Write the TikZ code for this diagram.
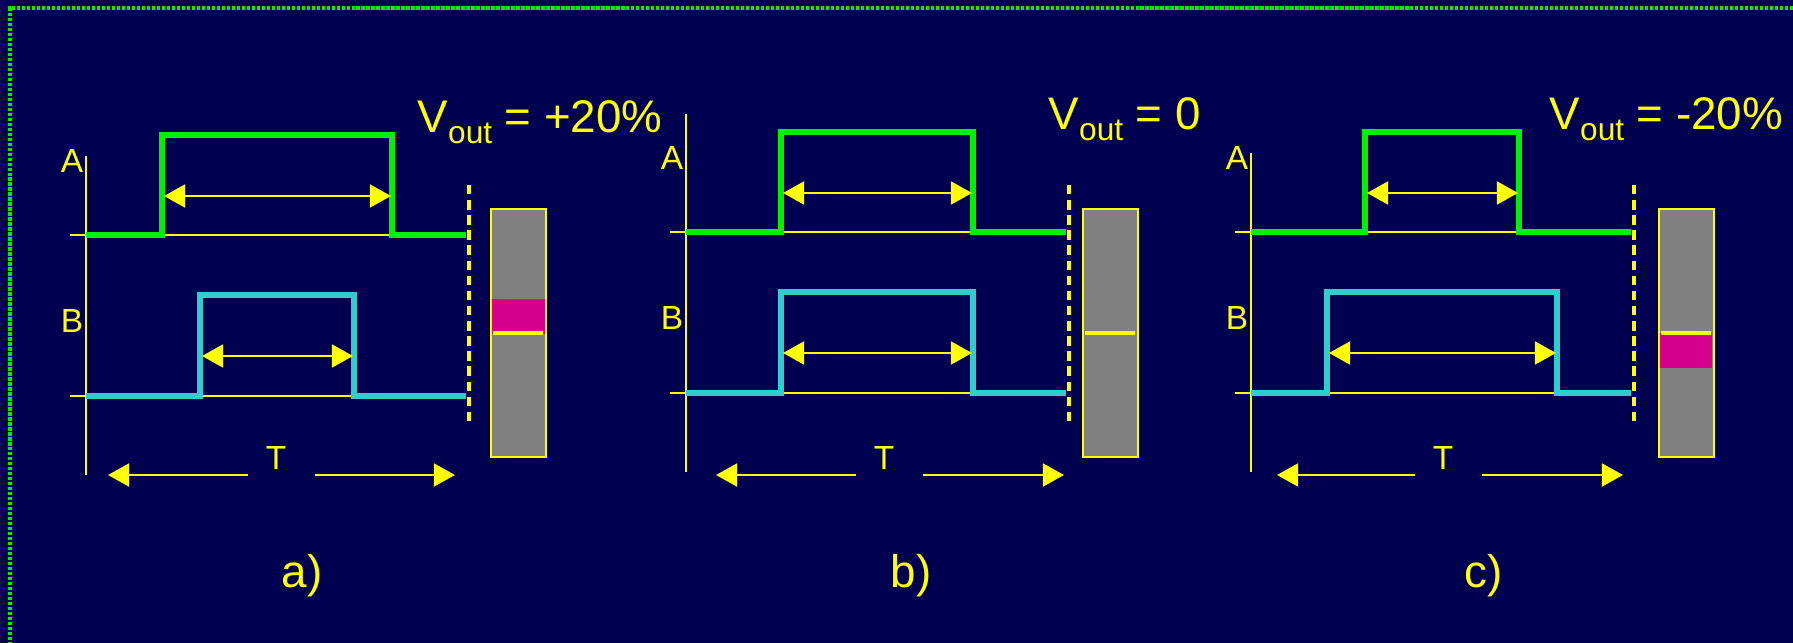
\documentclass[tikz,border=0pt]{standalone}
\usepackage{fontspec}
\setmainfont{Liberation Sans}
\usetikzlibrary{arrows.meta}

\definecolor{navy}{RGB}{0,0,80}
\definecolor{siggreen}{RGB}{0,240,0}
\definecolor{sigcyan}{RGB}{51,204,204}
\definecolor{baryellow}{RGB}{255,255,0}
\definecolor{bargray}{RGB}{128,128,128}
\definecolor{barmagenta}{RGB}{214,0,143}

\begin{document}
\begin{tikzpicture}[x=0.01cm, y=-0.01cm,
  guide/.style = {baryellow, line width=0.6pt},
  pulse A/.style = {siggreen, line width=1.45pt},
  pulse B/.style = {sigcyan, line width=1.45pt},
  width arrow/.style = {baryellow, line width=0.75pt,
    {Triangle[length=6pt,width=6.5pt]}-{Triangle[length=6pt,width=6.5pt]}},
  period arrow/.style = {baryellow, line width=0.75pt,
    -{Triangle[length=6pt,width=6.5pt]}},
  sync line/.style = {baryellow, line width=0.9pt, dash pattern=on 2.7pt off 1.6pt},
  level bar/.style = {draw=baryellow, fill=bargray, line width=0.75pt},
  small label/.style = {text=baryellow, font=\fontsize{9.5}{11}\selectfont,
    inner sep=0pt, anchor=base},
  big label/.style = {text=baryellow, font=\fontsize{13}{15}\selectfont,
    inner sep=0pt, anchor=base},
]
  \useasboundingbox (0,0) rectangle (1793,643);
  \fill[navy] (0,0) rectangle (1793,643);
  \draw[siggreen, line width=1pt, dash pattern=on 0.95pt off 0.47pt]
    (1793,8) -- (10,8) -- (10,643);

  % one panel per duty cycle case
  \foreach \n/\ax/\dy/\atop/\ra/\fa/\rb/\fb/\bx/\tleft/\tx/\tright/\lx/\vx/\vtxt in
    {a/86/3/156/162/392/200/354/491/108/276/455/302/417/+20\%,
     b/686/0/114/781/973/781/973/1083/716/884/1064/911/1048/0,
     c/1251/0/153/1365/1519/1327/1557/1659/1277/1443/1623/1484/1549/-20\%}
  {
    % axis and zero levels
    \draw[guide] (\ax,\atop) -- (\ax,472+\dy);
    \draw[guide] (\ax-16,232+\dy) -- (\ax+380,232+\dy);
    \draw[guide] (\ax-16,393+\dy) -- (\ax+380,393+\dy);
    % pulses
    \draw[pulse A] (\ax,232+\dy) -- (\ra,232+\dy) -- (\ra,132+\dy)
      -- (\fa,132+\dy) -- (\fa,232+\dy) -- (\ax+380,232+\dy);
    \draw[pulse B] (\ax,393+\dy) -- (\rb,393+\dy) -- (\rb,292+\dy)
      -- (\fb,292+\dy) -- (\fb,393+\dy) -- (\ax+380,393+\dy);
    \coordinate (A0\n) at (\ra+2,193+\dy);
    \coordinate (A1\n) at (\fa-1,193+\dy);
    \coordinate (B0\n) at (\rb+2,353+\dy);
    \coordinate (B1\n) at (\fb-1,353+\dy);
    \draw[width arrow] (A0\n) -- (A1\n);
    \draw[width arrow] (B0\n) -- (B1\n);
    \draw[sync line] (\ax+383,185) -- (\ax+383,425);
    \draw[level bar] (\bx,209) rectangle (\bx+55,457);
    % labels
    \node[small label] (A\n) at (\ax-14,170+\dy) {A};
    \node[small label] (B\n) at (\ax-14,330+\dy) {B};
    \node[small label] (T\n) at (\tx,470) {T};
    \node[big label] (L\n) at (\lx,588) {\n)};
    \node[big label, anchor=base west] (V\n) at (\vx,130+\dy)
      {V\raisebox{-3.1pt}{\fontsize{9}{10}\selectfont out} = \vtxt};
    % period T
    \coordinate (Tl\n) at (\tleft,475);
    \coordinate (Tr\n) at (\tright,475);
    \draw[period arrow, shorten <=5pt] (T\n.west |- Tl\n) -- (Tl\n);
    \draw[period arrow, shorten <=8pt] (T\n.east |- Tr\n) -- (Tr\n);
  }

  % output level marks
  \fill[barmagenta] (492,299) rectangle (545,334);
  \fill[barmagenta] (1660,333) rectangle (1712,368);
  \foreach \bx in {491,1083,1659}
    \draw[baryellow, line width=1.4pt] (\bx+2,333) -- (\bx+52,333);
\end{tikzpicture}
\end{document}
